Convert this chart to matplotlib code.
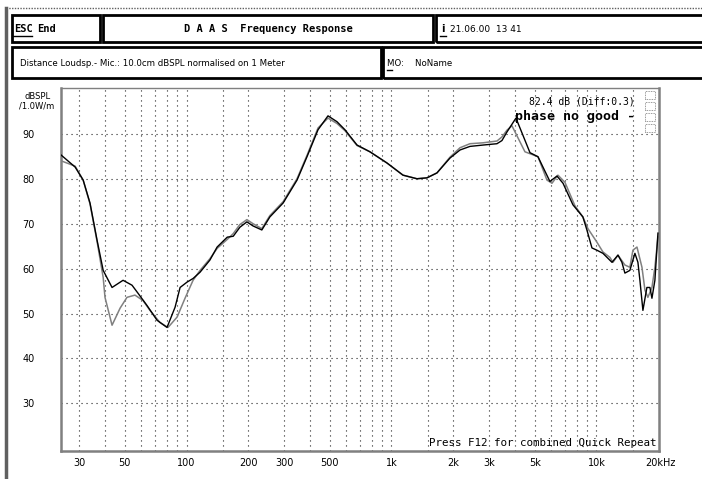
import numpy as np
import matplotlib
matplotlib.use('Agg')
from matplotlib import pyplot as plt
from matplotlib.patches import Rectangle
from matplotlib.lines import Line2D

# measured curve 1 (black)
freq_a = [24.4, 28.6, 31.3, 33.8, 36.6, 39.2, 43.3, 49, 54.2, 58, 64.1, 71.8, 80.3, 87.9,
          93, 100.6, 107.6, 116.4, 130, 141, 158, 169, 182, 197, 211, 233, 255, 296, 346,
          387, 438, 490, 542, 593, 679, 785, 951, 1138, 1331, 1489, 1667, 1929, 2159, 2415,
          2795, 3271, 3459, 3658, 4049, 4333, 4740, 5186, 5484, 5931, 6418, 6871, 7680,
          8590, 8985, 9510, 10050, 10760, 11910, 12740, 13320, 13770, 14560, 15410, 15940,
          16300, 16860, 17630, 18240, 18660, 19290, 19960]
spl_a = [85.3, 82.6, 79.7, 74.6, 66.3, 59.6, 55.8, 57.4, 56.3, 54.5, 51.8, 48.5, 46.9, 51.4,
         55.8, 57.0, 57.8, 59.2, 61.9, 64.8, 67.0, 67.2, 69.2, 70.4, 69.5, 68.6, 71.5, 74.6, 79.7,
         84.9, 90.9, 94.0, 92.7, 90.9, 87.5, 86.0, 83.5, 80.8, 80.0, 80.2, 81.3, 84.6, 86.4, 87.2,
         87.5, 87.8, 88.5, 90.4, 93.5, 90.2, 85.8, 84.9, 82.6, 79.4, 80.6, 79.0, 74.2,
         71.5, 68.6, 64.6, 64.1, 63.4, 61.4, 63.0, 61.4, 59.0, 59.6, 63.4, 61.4,
         57.4, 50.7, 55.8, 55.8, 53.4, 57.4, 67.9]

# measured curve 2 (grey)
freq_b = [24.4, 28.6, 31.3, 33.8, 36.6, 39.2, 40, 43.3, 47.4, 51.2, 56, 61.3, 66.3, 74.2,
          81.2, 89.9, 98.3, 107.6, 116.4, 130, 141, 158, 169, 182, 197, 211, 233, 255, 296,
          346, 387, 438, 490, 542, 593, 679, 785, 951, 1138, 1331, 1489, 1667, 1929, 2159,
          2415, 2795, 3271, 3459, 3658, 3870, 4480, 5186, 5738, 6069, 6490, 7022, 7852,
          8590, 9090, 10050, 10760, 11640, 12040, 12740, 13770, 14560, 15070, 15770, 16680,
          17250, 17830, 18660, 19290, 19960]
spl_b = [84.0, 82.8, 79.7, 74.4, 66.0, 58.0, 53.6, 47.4, 51.2, 53.6, 54.1, 52.9, 50.7, 48.0,
         46.9, 49.2, 53.4, 57.4, 59.6, 62.2, 64.5, 66.5, 67.8, 69.8, 70.9, 70.0, 68.9, 71.8, 74.9,
         80.0, 85.2, 91.3, 93.5, 92.3, 90.7, 87.4, 86.0, 83.5, 80.8, 80.0, 80.2, 81.3, 84.8, 86.9,
         87.8, 88.0, 88.4, 89.3, 90.8, 91.8, 86.0, 84.9, 79.7, 79.0, 80.8, 79.2, 74.0,
         71.5, 68.9, 65.9, 63.7, 62.5, 61.4, 63.0, 60.8, 60.3, 64.1, 64.8, 60.3,
         55.2, 53.6, 55.8, 60.3, 67.0]

xticks = [30, 50, 100, 200, 300, 500, 1000, 2000, 3000, 5000, 10000]
xlabels = ['30', '50', '100', '200', '300', '500', '1k', '2k', '3k', '5k', '10k']
yticks = [30, 40, 50, 60, 70, 80, 90]
xgrid = list(range(30, 100, 10)) + [100, 150] + list(range(200, 1000, 100)) + [1000, 1500] \
    + list(range(2000, 10000, 1000)) + [10000, 15000]

W, H = 702, 479
fig = plt.figure(figsize=(W / 100, H / 100), dpi=100)

def fx(x):
    return x / W

def fy(y):
    return 1 - y / H

def box(x0, y0, x1, y1):
    fig.add_artist(Rectangle((fx(x0), fy(y1)), fx(x1) - fx(x0), fy(y0) - fy(y1),
                             transform=fig.transFigure, fill=False, lw=2, ec='black'))

def hline(x0, x1, y, **kw):
    fig.add_artist(Line2D([fx(x0), fx(x1)], [fy(y), fy(y)], transform=fig.transFigure, **kw))

# outer frame
fig.add_artist(Line2D([fx(6), fx(6)], [fy(8), 0], transform=fig.transFigure, lw=2.5, color='#606060'))
hline(6, W, 8, lw=1, color='#606060', ls=(0, (1, 1)))

# header boxes
box(12, 15, 100, 42)
box(103, 15, 433, 42)
box(436, 15, 712, 42)
box(12, 47, 381, 78)
box(383, 47, 712, 78)

fig.text(fx(14), fy(29), 'ESC', fontsize=7.5, fontweight='bold', family='DejaVu Sans Mono', va='center')
fig.text(fx(37), fy(29), 'End', fontsize=7.5, fontweight='bold', family='DejaVu Sans Mono', va='center')
hline(13, 32, 36, lw=1, color='black')
fig.text(fx(268), fy(29), 'D A A S  Frequency Response', fontsize=7.5, fontweight='bold',
         family='DejaVu Sans Mono', ha='center', va='center')
fig.text(fx(441), fy(29), 'i', fontsize=7, fontweight='bold', va='center')
hline(440, 446, 36, lw=1, color='black')
fig.text(fx(450), fy(29), '21.06.00  13 41', fontsize=6.5, va='center')
fig.text(fx(20), fy(63), 'Distance Loudsp.- Mic.: 10.0cm dBSPL normalised on 1 Meter',
         fontsize=6.2, va='center')
fig.text(fx(387), fy(63), 'MO:    NoName', fontsize=6.2, va='center')
hline(387, 392, 70, lw=1, color='black')

# plot area
ax = fig.add_axes([fx(61), fy(451), fx(659) - fx(61), fy(88) - fy(451)])
ax.set_xscale('log')
ax.set_xlim(24.4, 20200)
ax.set_ylim(19.4, 100.2)

for f in xgrid:
    ax.axvline(f, color='#222222', lw=0.8, ls=(0, (1, 3.5)), zorder=1)
for v in yticks:
    ax.axhline(v, color='#222222', lw=0.8, ls=(0, (1, 3.5)), zorder=1)

ax.plot(freq_b, spl_b, color='#808080', lw=1.1, zorder=3)
ax.plot(freq_a, spl_a, color='black', lw=1.0, zorder=4)

ax.set_xticks(xticks)
ax.set_xticklabels(xlabels)
ax.xaxis.set_minor_locator(matplotlib.ticker.NullLocator())
ax.set_yticks(yticks)
ax.tick_params(axis='both', length=0, labelsize=7)
ax.tick_params(axis='y', pad=19)
ax.tick_params(axis='x', pad=5)
ax.annotate('20kHz', xy=(20000, 0), xycoords=('data', 'axes fraction'),
            xytext=(-9, -9), textcoords='offset points', fontsize=7, va='center')

for s in ['left', 'bottom', 'right']:
    ax.spines[s].set_color('#808080')
    ax.spines[s].set_linewidth(1.8)
ax.spines['top'].set_color('#808080')
ax.spines['top'].set_linestyle((0, (1, 1)))
ax.spines['top'].set_linewidth(1)

fig.text(fx(38), fy(97), 'dBSPL', fontsize=6, ha='center', va='center')
fig.text(fx(37), fy(106), '/1.0W/m', fontsize=6, ha='center', va='center')

ax.text(0.96, 0.964, '82.4 dB (Diff:0.3)', transform=ax.transAxes, ha='right', va='center',
        fontsize=7, family='DejaVu Sans Mono')
ax.text(0.96, 0.921, 'phase no good -', transform=ax.transAxes, ha='right', va='center',
        fontsize=9.5, fontweight='bold', family='DejaVu Sans Mono')
ax.text(0.995, 0.008, 'Press F12 for combined Quick Repeat', transform=ax.transAxes,
        ha='right', va='bottom', fontsize=7.8, family='DejaVu Sans Mono')

# small icon stack at top right
for i in range(4):
    ax.add_patch(Rectangle((0.976, 0.97 - i * 0.03), 0.018, 0.022, transform=ax.transAxes,
                           fill=False, lw=0.6, ec='#777777', ls=(0, (1, 1))))

fig.savefig('out.png', dpi=100)
